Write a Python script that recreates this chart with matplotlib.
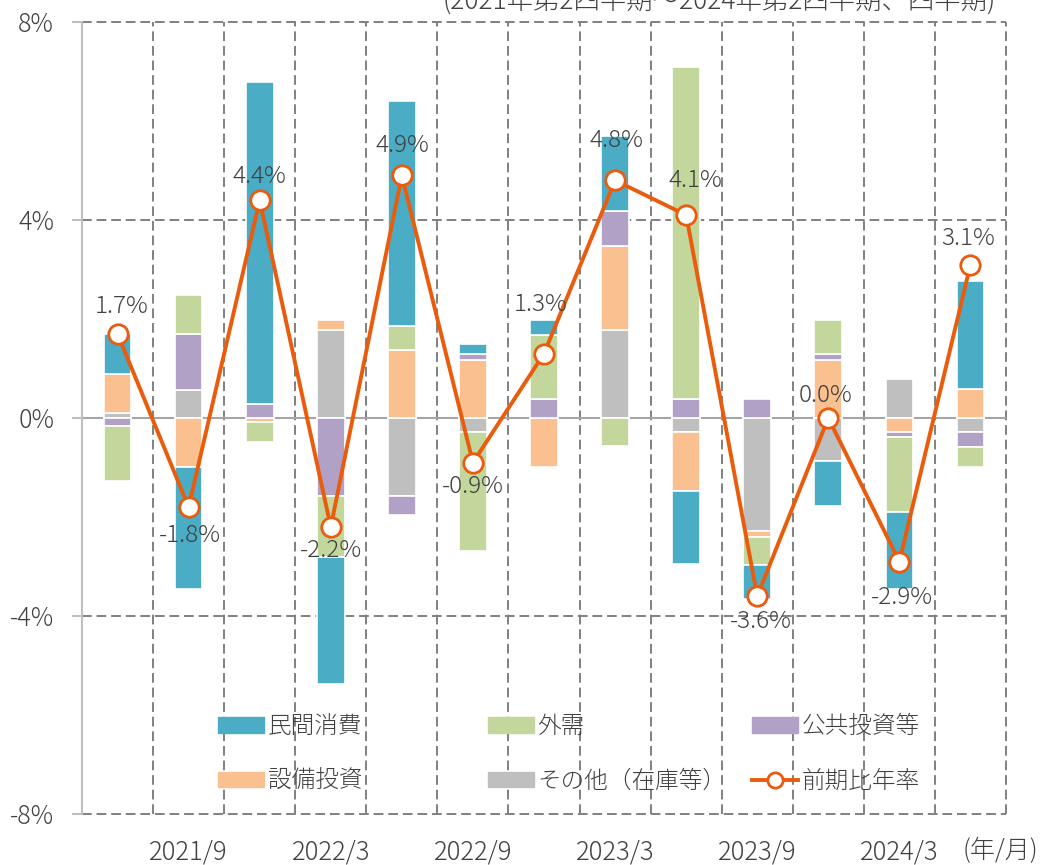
import numpy as np
import matplotlib
matplotlib.use('Agg')
import matplotlib.pyplot as plt
from matplotlib.patches import Patch
from matplotlib.lines import Line2D

plt.rcParams['font.family'] = ['Noto Sans CJK JP', 'DejaVu Sans']
plt.rcParams['font.weight'] = 'light'

# quarters 2021/6 .. 2024/6
quarters = ['2021/6', '2021/9', '2021/12', '2022/3', '2022/6', '2022/9', '2022/12',
            '2023/3', '2023/6', '2023/9', '2023/12', '2024/3', '2024/6']
tick_labels = ['2021/9', '2022/3', '2022/9', '2023/3', '2023/9', '2024/3']

# contributions (%pt)
consumption = [0.80, -2.47, 6.50, -2.57, 4.54, 0.20, 0.30, 1.52, -1.47, -0.69, -0.91, -1.56, 2.18]
external    = [-1.11, 0.78, -0.41, -1.23, 0.49, -2.41, 1.30, -0.57, 6.72, -0.57, 0.69, -1.51, -0.40]
public      = [-0.16, 1.13, 0.28, -1.57, -0.39, 0.12, 0.38, 0.71, 0.38, 0.38, 0.12, -0.10, -0.30]
capex       = [0.79, -0.98, -0.08, 0.20, 1.37, 1.17, -0.98, 1.69, -1.19, -0.12, 1.17, -0.28, 0.59]
other       = [0.10, 0.57, 0.00, 1.78, -1.57, -0.28, 0.00, 1.78, -0.28, -2.28, -0.87, 0.79, -0.28]
growth      = [1.7, -1.8, 4.4, -2.2, 4.9, -0.9, 1.3, 4.8, 4.1, -3.6, 0.0, -2.9, 3.1]

C_CONS = '#4BACC6'
C_EXT = '#C3D69B'
C_PUB = '#B2A1C7'
C_CAP = '#FAC090'
C_OTH = '#BFBFBF'
C_LINE = '#EA5B0C'
TXT = '#404040'

fig = plt.figure(figsize=(10.41, 8.65), dpi=100)
W, H = 1041, 865
ax = fig.add_axes([82 / W, 1 - 814 / H, (1006 - 82) / W, (814 - 22) / H])

x = np.arange(len(quarters))
pos_base = np.zeros(len(x))
neg_base = np.zeros(len(x))
# stacking order as in the original chart
for vals, col in [(other, C_OTH), (capex, C_CAP), (public, C_PUB),
                  (external, C_EXT), (consumption, C_CONS)]:
    v = np.array(vals)
    base = np.where(v >= 0, pos_base, neg_base)
    ax.bar(x, v, 0.39, bottom=base, color=col, edgecolor='white', linewidth=1.2, zorder=3)
    pos_base += np.where(v > 0, v, 0)
    neg_base += np.where(v < 0, v, 0)

ax.plot(x, growth, color=C_LINE, lw=2.8, marker='o', ms=14, mfc='white',
        mec=C_LINE, mew=2, zorder=5)

# label offsets in pixels (dx, dy), dy positive = up
offs = [(4, 27), (1, -28), (0, 24), (0, -24), (1, 30), (0, -24), (-3, 49),
        (1, 40), (9, 35), (4, -25), (-3, 23), (2, -36), (-2, 26)]
for xi, g, (dx, dy) in zip(x, growth, offs):
    ax.annotate(f'{g:.1f}%', (xi, g), xytext=(dx * 0.72, dy * 0.72),
                textcoords='offset points', ha='center', va='center',
                fontsize=17.5, color=TXT, zorder=6)

ax.set_xlim(-0.5, len(x) - 0.5)
ax.set_ylim(-8, 8)

dash = (0, (5, 2.5))
for b in np.arange(0.5, len(x), 1):
    ax.axvline(b, color='#808080', lw=1.4, ls=dash, zorder=1, clip_on=False)
for yv in [-8, -4, 4, 8]:
    ax.axhline(yv, color='#808080', lw=1.4, ls=dash, zorder=1, clip_on=False)
ax.axhline(0, color='#A6A6A6', lw=1.5, zorder=2)

for s in ['top', 'right', 'bottom']:
    ax.spines[s].set_visible(False)
ax.spines['left'].set_color('#BFBFBF')
ax.spines['left'].set_linewidth(1.5)

ax.set_yticks([-8, -4, 0, 4, 8])
ax.set_yticklabels(['-8%', '-4%', '0%', '4%', '8%'])
ax.tick_params(axis='y', direction='out', length=7, width=1.5, color='#BFBFBF',
               labelsize=18, labelcolor=TXT, pad=13)
ax.set_xticks([1, 3, 5, 7, 9, 11])
ax.set_xticklabels(tick_labels)
ax.tick_params(axis='x', length=0, labelsize=18.5, labelcolor=TXT, pad=18)

fig.text(1000 / W, 1 - 851 / H, '(年/月)', ha='center', va='center', fontsize=18, color=TXT)
fig.text(996 / W, 1 - 1 / H, '(2021年第2四半期～2024年第2四半期、四半期)',
         ha='right', va='center', fontsize=19, color=TXT)

# legend, three fixed columns
cols = [
    [(Patch(color=C_CONS), '民間消費'), (Patch(color=C_CAP), '設備投資')],
    [(Patch(color=C_EXT), '外需'), (Patch(color=C_OTH), 'その他（在庫等）')],
    [(Patch(color=C_PUB), '公共投資等'),
     (Line2D([], [], color=C_LINE, lw=2.8, marker='o', ms=11, mfc='white', mec=C_LINE, mew=2),
      '前期比年率')],
]
col_x = [218, 488, 752]
for cx, items in zip(col_x, cols):
    lg = fig.legend([h for h, _ in items], [l for _, l in items],
                    loc='center left', bbox_to_anchor=(cx / W, 1 - 754 / H),
                    frameon=False, fontsize=17, handlelength=1.95, handleheight=0.65,
                    handletextpad=0.15, labelspacing=1.25, borderpad=0, borderaxespad=0,
                    labelcolor=TXT)

fig.savefig('out.png', dpi=100)
